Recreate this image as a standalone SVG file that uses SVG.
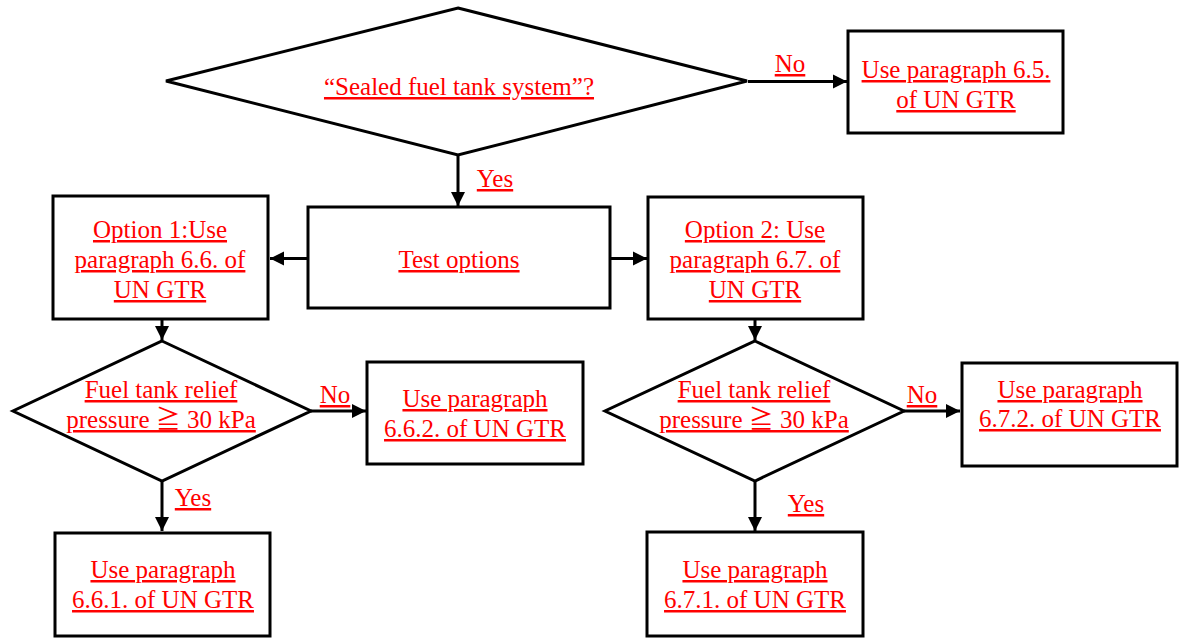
<svg xmlns="http://www.w3.org/2000/svg" width="1184" height="638" viewBox="0 0 1184 638">
<style>
.box{fill:#fff;stroke:#000;stroke-width:3}
.t{font-family:"Liberation Serif","Noto Sans CJK JP",serif;font-size:25px;fill:#ff0000;text-anchor:middle;text-decoration:underline}
.c{stroke:#000;stroke-width:3;fill:none}
</style>
<defs>
<marker id="ah" viewBox="0 0 10 10" refX="10" refY="5" markerWidth="4.7" markerHeight="4.7" orient="auto" markerUnits="strokeWidth">
<path d="M0,0 L10,5 L0,10 z" fill="#000"/>
</marker>
</defs>
<rect width="1184" height="638" fill="#fff"/>
<g id="connectors">
<line class="c" x1="748" y1="81.5" x2="847" y2="81.5" marker-end="url(#ah)"/>
<line class="c" x1="458" y1="155" x2="458" y2="206" marker-end="url(#ah)"/>
<line class="c" x1="307" y1="258.5" x2="270" y2="258.5" marker-end="url(#ah)"/>
<line class="c" x1="610" y1="258.5" x2="647" y2="258.5" marker-end="url(#ah)"/>
<line class="c" x1="162" y1="319" x2="162" y2="340" marker-end="url(#ah)"/>
<line class="c" x1="755" y1="319" x2="755" y2="340" marker-end="url(#ah)"/>
<line class="c" x1="311" y1="411" x2="366" y2="411" marker-end="url(#ah)"/>
<line class="c" x1="904" y1="411" x2="960" y2="411" marker-end="url(#ah)"/>
<line class="c" x1="162" y1="481" x2="162" y2="531" marker-end="url(#ah)"/>
<line class="c" x1="755" y1="481" x2="755" y2="531" marker-end="url(#ah)"/>
<text class="t" x="790" y="72">No</text>
<text class="t" x="495" y="187">Yes</text>
<text class="t" x="335" y="403">No</text>
<text class="t" x="922" y="403">No</text>
<text class="t" x="193" y="506">Yes</text>
<text class="t" x="806" y="512">Yes</text>
</g>
<g id="sealed">
<polygon class="box" points="458,8 747,81 458,155 166,81"/>
<text class="t" x="459" y="95">“Sealed fuel tank system”?</text>
</g>
<g id="use65">
<rect class="box" x="848" y="31" width="215" height="102"/>
<text class="t" x="956" y="78">Use paragraph 6.5.</text>
<text class="t" x="956" y="108">of UN GTR</text>
</g>
<g id="testoptions">
<rect class="box" x="308" y="207" width="302" height="101"/>
<text class="t" x="459" y="268">Test options</text>
</g>
<g id="option1">
<rect class="box" x="53" y="196" width="215" height="123"/>
<text class="t" x="160" y="238">Option 1:Use</text>
<text class="t" x="160" y="268">paragraph 6.6. of</text>
<text class="t" x="160" y="298">UN GTR</text>
</g>
<g id="option2">
<rect class="box" x="648" y="197" width="215" height="122"/>
<text class="t" x="755" y="238">Option 2: Use</text>
<text class="t" x="755" y="268">paragraph 6.7. of</text>
<text class="t" x="755" y="298">UN GTR</text>
</g>
<g id="relief1">
<polygon class="box" points="162,341 311,411 162,481 13,411"/>
<text class="t" x="161" y="398">Fuel tank relief</text>
<text class="t" x="161" y="428">pressure ≧ 30 kPa</text>
</g>
<g id="use662">
<rect class="box" x="367" y="362" width="216" height="102"/>
<text class="t" x="475" y="407">Use paragraph</text>
<text class="t" x="475" y="437">6.6.2. of UN GTR</text>
</g>
<g id="use661">
<rect class="box" x="55" y="533" width="215" height="103"/>
<text class="t" x="163" y="578">Use paragraph</text>
<text class="t" x="163" y="608">6.6.1. of UN GTR</text>
</g>
<g id="relief2">
<polygon class="box" points="755,341 904,411 755,481 605,411"/>
<text class="t" x="754" y="398">Fuel tank relief</text>
<text class="t" x="754" y="428">pressure ≧ 30 kPa</text>
</g>
<g id="use672">
<rect class="box" x="962" y="363" width="215" height="103"/>
<text class="t" x="1070" y="398">Use paragraph</text>
<text class="t" x="1070" y="427">6.7.2. of UN GTR</text>
</g>
<g id="use671">
<rect class="box" x="647" y="532" width="216" height="104"/>
<text class="t" x="755" y="578">Use paragraph</text>
<text class="t" x="755" y="608">6.7.1. of UN GTR</text>
</g>
</svg>
